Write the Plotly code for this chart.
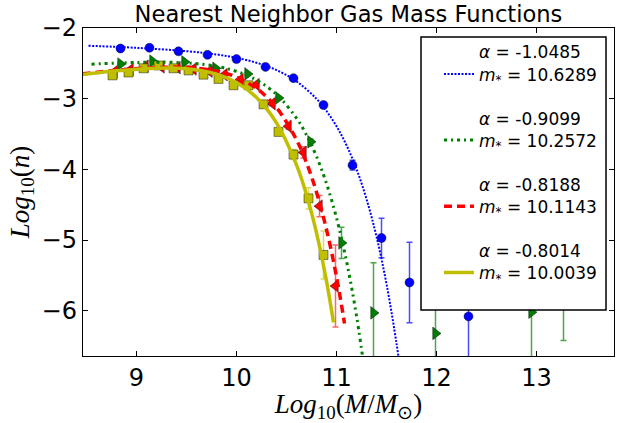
import plotly.graph_objects as go

# ---------------- data ----------------
# Blue series (points)
blue_x = [8.84, 9.13, 9.42, 9.71, 10.00, 10.29, 10.57, 10.87, 11.16, 11.45, 11.73, 12.02, 12.32]
blue_y = [-2.29, -2.28, -2.33, -2.38, -2.44, -2.55, -2.71, -3.09, -3.94, -4.97, -5.60, -5.68, -6.08]
blue_err = [0.01, 0.01, 0.01, 0.01, 0.01, 0.01, 0.02, 0.03, 0.07, 0.28, 0.57, 0.30, 0.90]

# Green series (points)
green_x = [8.84, 9.16, 9.48, 9.79, 10.11, 10.42, 10.74, 11.05, 11.37, 11.99, 12.95, 13.27]
green_y = [-2.51, -2.47, -2.48, -2.57, -2.65, -2.99, -3.61, -5.04, -6.03, -6.32, -6.02, -5.75]
green_err = [0.01, 0.01, 0.01, 0.01, 0.02, 0.02, 0.04, 0.22, 0.71, 0.90, 0.90, 0.67]

# Red series (points)
red_x = [8.78, 8.94, 9.09, 9.25, 9.41, 9.57, 9.73, 9.88, 10.04, 10.20, 10.36, 10.52, 10.67, 10.83, 10.99]
red_y = [-2.62, -2.59, -2.54, -2.55, -2.56, -2.58, -2.61, -2.66, -2.73, -2.80, -3.07, -3.39, -3.76, -4.52, -5.65]
red_err = [0.01, 0.01, 0.01, 0.01, 0.01, 0.01, 0.01, 0.01, 0.02, 0.02, 0.03, 0.04, 0.08, 0.15, 0.58]

# Yellow series (points)
yel_x = [8.76, 8.92, 9.07, 9.22, 9.37, 9.52, 9.67, 9.82, 9.97, 10.12, 10.27, 10.42, 10.57, 10.72, 10.87]
yel_y = [-2.67, -2.63, -2.57, -2.53, -2.57, -2.60, -2.66, -2.72, -2.81, -2.81, -3.08, -3.47, -3.79, -4.41, -5.21]
yel_err = [0.01, 0.01, 0.01, 0.01, 0.01, 0.01, 0.01, 0.02, 0.02, 0.02, 0.03, 0.04, 0.07, 0.15, 0.34]

# Fitted curves
blue_fit_x = [8.52, 9.0, 9.5, 9.8, 10.0, 10.2, 10.4, 10.6, 10.8, 10.9, 11.0, 11.1, 11.2, 11.3, 11.4, 11.5, 11.6, 11.65]
blue_fit_y = [-2.251, -2.281, -2.328, -2.374, -2.422, -2.491, -2.595, -2.755, -3.002, -3.174, -3.389,
              -3.658, -3.996, -4.419, -4.951, -5.620, -6.461, -6.96]
green_fit_x = [8.55, 9.0, 9.5, 9.8, 10.0, 10.2, 10.4, 10.6, 10.7, 10.8, 10.9, 11.0, 11.1, 11.2, 11.3]
green_fit_y = [-2.512, -2.487, -2.494, -2.543, -2.614, -2.736, -2.940, -3.275, -3.514, -3.817, -4.200,
               -4.685, -5.298, -6.072, -7.05]
red_fit_x = [8.46, 8.8, 9.2, 9.5, 9.8, 10.0, 10.2, 10.4, 10.6, 10.7, 10.8, 10.9, 11.0, 11.08]
red_fit_y = [-2.649, -2.599, -2.559, -2.557, -2.608, -2.695, -2.854, -3.127, -3.581, -3.907, -4.322,
             -4.850, -5.518, -6.179]
yel_fit_x = [8.46, 8.8, 9.2, 9.5, 9.8, 10.0, 10.2, 10.4, 10.6, 10.7, 10.8, 10.9, 10.97]
yel_fit_y = [-2.659, -2.606, -2.568, -2.576, -2.652, -2.771, -2.983, -3.342, -3.936, -4.359, -4.898,
             -5.581, -6.165]

legend_labels = [
    "<i>α</i> = -1.0485<br><i>m</i><sub>*</sub> = 10.6289",
    "<i>α</i> = -0.9099<br><i>m</i><sub>*</sub> = 10.2572",
    "<i>α</i> = -0.8188<br><i>m</i><sub>*</sub> = 10.1143",
    "<i>α</i> = -0.8014<br><i>m</i><sub>*</sub> = 10.0039",
]

x_ticks = [9, 10, 11, 12, 13]
y_ticks = [-2, -3, -4, -5, -6]

# ---------------- figure ----------------
fig = go.Figure()

edge = dict(color="rgba(0,0,0,0.55)", width=0.8)

# data points with error bars
fig.add_trace(go.Scatter(x=blue_x, y=blue_y, mode="markers", showlegend=False,
                         marker=dict(symbol="circle", size=9, color="#0000ff", line=edge),
                         error_y=dict(type="data", array=blue_err, color="rgba(0,0,255,0.7)",
                                      thickness=1.5, width=3)))
fig.add_trace(go.Scatter(x=green_x, y=green_y, mode="markers", showlegend=False,
                         marker=dict(symbol="triangle-right", size=11, color="#007f00", line=edge),
                         error_y=dict(type="data", array=green_err, color="rgba(0,128,0,0.7)",
                                      thickness=1.5, width=3)))
fig.add_trace(go.Scatter(x=red_x, y=red_y, mode="markers", showlegend=False,
                         marker=dict(symbol="triangle-left", size=11, color="#ff0000", line=edge),
                         error_y=dict(type="data", array=red_err, color="rgba(255,0,0,0.6)",
                                      thickness=1.5, width=3)))
fig.add_trace(go.Scatter(x=yel_x, y=yel_y, mode="markers", showlegend=False,
                         marker=dict(symbol="square", size=9, color="#bfbf00", line=edge),
                         error_y=dict(type="data", array=yel_err, color="rgba(191,191,0,0.6)",
                                      thickness=1.5, width=3)))

# fitted curves (legend entries)
fig.add_trace(go.Scatter(x=blue_fit_x, y=blue_fit_y, mode="lines", name=legend_labels[0],
                         legendgroup="g1",
                         line=dict(color="#0000ff", width=2, dash="2px,1.5px", shape="spline")))
fig.add_trace(go.Scatter(x=green_fit_x, y=green_fit_y, mode="lines", name=legend_labels[1],
                         legendgroup="g2",
                         line=dict(color="#008000", width=3, dash="3px,4px,2px,4px", shape="spline")))
fig.add_trace(go.Scatter(x=red_fit_x, y=red_fit_y, mode="lines", name=legend_labels[2],
                         legendgroup="g3",
                         line=dict(color="#ff0000", width=3.5, dash="8px,5px", shape="spline")))
fig.add_trace(go.Scatter(x=yel_fit_x, y=yel_fit_y, mode="lines", name=legend_labels[3],
                         legendgroup="g4",
                         line=dict(color="#bfbf00", width=3.5, shape="spline")))

axis_common = dict(
    showline=True, linecolor="black", linewidth=1.2, mirror="ticks",
    ticks="inside", ticklen=5, tickwidth=1, tickcolor="black",
    showgrid=False, zeroline=False, automargin=False,
    tickfont=dict(family="DejaVu Sans", size=24, color="black"),
)

fig.update_layout(
    width=619, height=423,
    margin=dict(l=83, r=5, t=28, b=67),
    paper_bgcolor="white", plot_bgcolor="white",
    hovermode=False,
    title=dict(text="Nearest Neighbor Gas Mass Functions",
               font=dict(family="DejaVu Sans", size=22.6, color="black"),
               x=0.563, xanchor="center", y=1 - 14 / 423, yanchor="middle"),
    xaxis=dict(range=[8.465, 13.775], tickvals=x_ticks, ticktext=[str(t) for t in x_ticks],
               title=dict(text="<i>Log</i><sub>10</sub>(<i>M</i>/<i>M</i><sub>⊙</sub>)",
                          font=dict(family="Liberation Serif", size=27, color="black"),
                          standoff=4),
               **axis_common),
    yaxis=dict(range=[-6.64, -2.0], tickvals=y_ticks, ticktext=["\u2212" + str(-t) for t in y_ticks],
               title=dict(text="<i>Log</i><sub>10</sub>(<i>n</i>)",
                          font=dict(family="Liberation Serif", size=27, color="black"),
                          standoff=4),
               **axis_common),
    legend=dict(x=(439 - 83) / 531, xanchor="left", y=0.981, yanchor="top",
                bgcolor="rgba(0,0,0,0)", borderwidth=0,
                font=dict(family="DejaVu Sans", size=17, color="black"),
                valign="bottom", tracegroupgap=19, itemwidth=30),
    shapes=[dict(type="rect", xref="paper", yref="paper",
                 x0=(421 - 83) / 531, x1=(606 - 83) / 531,
                 y0=(356 - 310) / 328, y1=(356 - 37) / 328,
                 line=dict(color="black", width=1.5), fillcolor="white", layer="above")],
)

fig.write_html("out.html", config={"displayModeBar": False, "staticPlot": True},
               post_script="document.body.style.margin='0';document.body.style.overflow='hidden';")
